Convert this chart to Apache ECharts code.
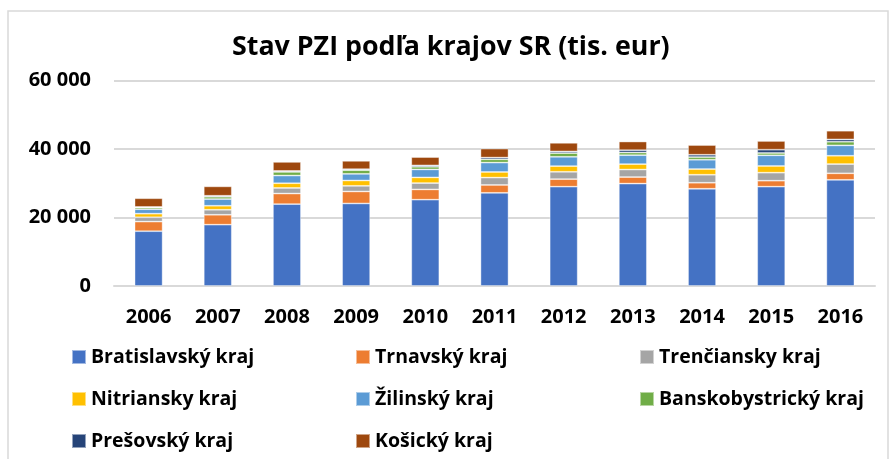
<!DOCTYPE html>
<html>
<head>
<meta charset="utf-8">
<script src="https://cdn.jsdelivr.net/npm/echarts@6/dist/echarts.min.js"></script>
<style>
  html, body { margin: 0; padding: 0; background: #fff; }
  #chart { width: 894px; height: 459px; }
</style>
</head>
<body>
<div id="chart"></div>
<script>
const years = ['2006', '2007', '2008', '2009', '2010', '2011', '2012', '2013', '2014', '2015', '2016'];

const bratislavsky     = [16000, 17900, 23900, 24100, 25200, 27200, 29000, 29900, 28400, 29000, 31000];
const trnavsky         = [2800, 2900, 3100, 3500, 3000, 2300, 2200, 1900, 1750, 1750, 1900];
const trenciansky      = [1270, 1460, 1630, 1640, 1850, 2150, 2140, 2200, 2330, 2340, 2700];
const nitriansky       = [1050, 1170, 1380, 1570, 1660, 1640, 1660, 1580, 1660, 1950, 2430];
const zilinsky         = [1290, 1950, 2240, 1930, 2330, 2740, 2720, 2620, 2720, 3120, 3030];
const banskobystricky  = [480, 680, 1060, 1080, 770, 960, 1080, 770, 790, 680, 1060];
const presovsky        = [200, 290, 290, 290, 400, 500, 490, 690, 670, 960, 680];
const kosicky          = [2530, 2740, 2630, 2430, 2430, 2620, 2510, 2520, 2830, 2540, 2530];

const seriesDefs = [
  ['Bratislavský kraj', bratislavsky, '#4472C4'],
  ['Trnavský kraj', trnavsky, '#ED7D31'],
  ['Trenčiansky kraj', trenciansky, '#A5A5A5'],
  ['Nitriansky kraj', nitriansky, '#FFC000'],
  ['Žilinský kraj', zilinsky, '#5B9BD5'],
  ['Banskobystrický kraj', banskobystricky, '#70AD47'],
  ['Prešovský kraj', presovsky, '#264478'],
  ['Košický kraj', kosicky, '#9E480E']
];

const font = '"Open Sans", sans-serif';
const chart = echarts.init(document.getElementById('chart'));

// one vertical legend per column, like the 3-column Excel legend
function legendCol(left, names) {
  return {
    orient: 'vertical',
    left: left,
    top: 347,
    padding: 0,
    itemWidth: 14,
    itemHeight: 14,
    itemGap: 22,
    icon: 'rect',
    data: names,
    textStyle: { fontFamily: font, fontWeight: 'bold', fontSize: 19.5, color: '#000', lineHeight: 20 }
  };
}

const option = {
  animation: false,
  title: {
    text: 'Stav PZI podľa krajov SR (tis. eur)',
    left: 232,
    top: 34,
    padding: 0,
    textStyle: { fontFamily: font, fontWeight: 'bold', fontSize: 26.8, color: '#000' }
  },
  graphic: [{
    type: 'rect',
    shape: { x: 8, y: 11, width: 880, height: 460 },
    style: { fill: 'none', stroke: '#d9d9d9', lineWidth: 1.5 },
    silent: true
  }],
  legend: [
    legendCol(71, ['Bratislavský kraj', 'Nitriansky kraj', 'Prešovský kraj']),
    legendCol(355, ['Trnavský kraj', 'Žilinský kraj', 'Košický kraj']),
    legendCol(639, ['Trenčiansky kraj', 'Banskobystrický kraj'])
  ],
  grid: { left: 114, right: 19, top: 80.5, bottom: 173, containLabel: false },
  xAxis: {
    type: 'category',
    data: years,
    axisLine: { lineStyle: { color: '#d9d9d9', width: 2 } },
    axisTick: { show: false },
    axisLabel: { fontFamily: font, fontWeight: 'bold', fontSize: 20, color: '#000', margin: 21 }
  },
  yAxis: {
    type: 'value',
    min: 0,
    max: 60000,
    interval: 20000,
    axisLine: { show: false },
    axisTick: { show: false },
    splitLine: { lineStyle: { color: '#d9d9d9', width: 2 } },
    axisLabel: {
      fontFamily: font, fontWeight: 'bold', fontSize: 20, color: '#000', margin: 23,
      formatter: v => String(v).replace(/\B(?=(\d{3})+(?!\d))/g, ' ')
    }
  },
  series: seriesDefs.map(([name, data, color]) => ({
    name: name,
    type: 'bar',
    stack: 'total',
    barWidth: 28,
    data: data,
    itemStyle: { color: color, borderColor: 'rgba(255,255,255,0.5)', borderWidth: 0.8 }
  }))
};

chart.setOption(option);
</script>
</body>
</html>
